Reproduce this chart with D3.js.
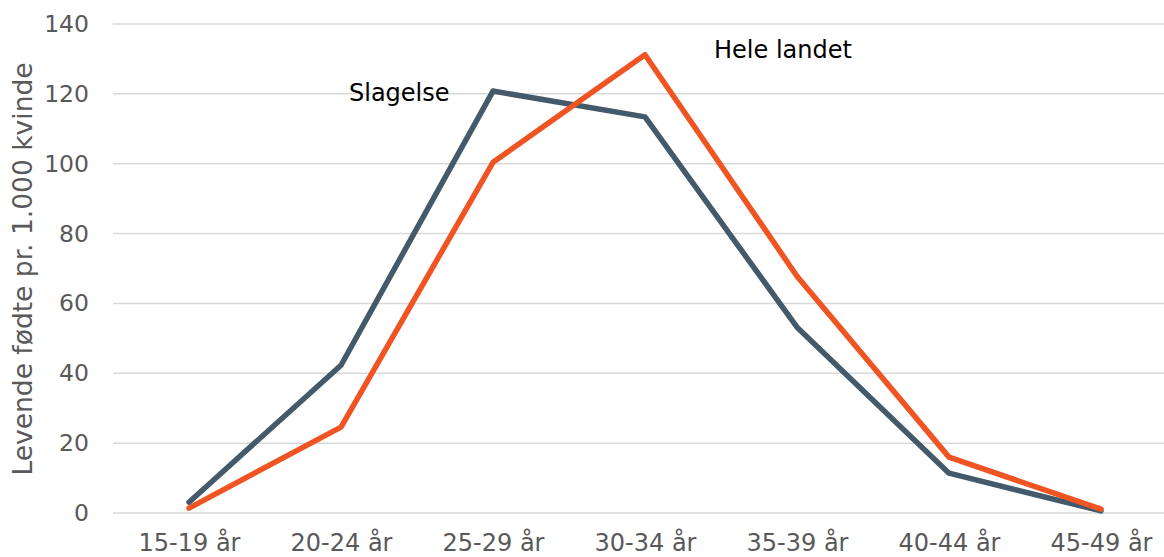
<!DOCTYPE html>
<html>
<head>
<meta charset="utf-8">
<script src="https://cdnjs.cloudflare.com/ajax/libs/d3/7.8.5/d3.min.js"></script>
<style>
  body { margin: 0; background: #fff; }
  svg { display: block; font-family: "DejaVu Sans", Verdana, sans-serif; }
</style>
</head>
<body>
<div id="chart"></div>
<script>
// categories and values
var categories = ["15-19 år", "20-24 år", "25-29 år", "30-34 år", "35-39 år", "40-44 år", "45-49 år"];
var slagelse = [3.1, 42.3, 120.8, 113.4, 53.2, 11.4, 0.6];
var heleLandet = [1.4, 24.6, 100.4, 131.2, 67.8, 16.0, 1.1];
var yTicks = [0, 20, 40, 60, 80, 100, 120, 140];

var series = [
    { name: "Slagelse", values: slagelse, color: "#44596a", label: { cat: 1, dx: 8, value: 118 } },
    { name: "Hele landet", values: heleLandet, color: "#f05423", label: { cat: 3, dx: 69, value: 130.3 } }
];

var width = 1164, height = 557;
var margin = { top: 24, right: 0, bottom: 44, left: 113 };

var svg = d3.select("#chart")
    .append("svg")
    .attr("width", width)
    .attr("height", height);

// x scale: one band per age group
var x = d3.scalePoint()
    .domain(categories)
    .range([margin.left, margin.left + 152 * 7])
    .padding(0.5);

var y = d3.scaleLinear()
    .domain([0, 140])
    .range([height - margin.bottom, margin.top]);

// gridlines
svg.append("g")
    .selectAll("line")
    .data(yTicks)
    .enter()
    .append("line")
    .attr("x1", margin.left)
    .attr("x2", width)
    .attr("y1", function (d) { return y(d); })
    .attr("y2", function (d) { return y(d); })
    .attr("stroke", "#d9d9d9")
    .attr("stroke-width", 1.5);

// y axis labels
var yAxis = svg.append("g")
    .attr("transform", "translate(" + (margin.left - 24) + ",0)")
    .call(d3.axisLeft(y).tickValues(yTicks).tickSize(0).tickPadding(0));
yAxis.select(".domain").remove();
yAxis.selectAll("text")
    .attr("font-size", 23.5)
    .attr("fill", "#595959")
    .attr("font-family", "DejaVu Sans, Verdana, sans-serif");

// x axis labels
var xAxis = svg.append("g")
    .attr("transform", "translate(0," + (height - margin.bottom) + ")")
    .call(d3.axisBottom(x).tickSize(0).tickPadding(21));
xAxis.select(".domain").remove();
xAxis.selectAll("text")
    .attr("font-size", 24)
    .attr("fill", "#595959")
    .attr("font-family", "DejaVu Sans, Verdana, sans-serif");

// axis title
svg.append("text")
    .attr("transform", "translate(32," + 269 + ") rotate(-90)")
    .attr("text-anchor", "middle")
    .attr("font-size", 26.5)
    .attr("fill", "#595959")
    .text("Levende fødte pr. 1.000 kvinde");

// lines
var line = d3.line()
    .x(function (d, i) { return x(categories[i]); })
    .y(function (d) { return y(d); });

series.forEach(function (s) {
    svg.append("path")
        .datum(s.values)
        .attr("fill", "none")
        .attr("stroke", s.color)
        .attr("stroke-width", 5.5)
        .attr("stroke-linejoin", "round")
        .attr("stroke-linecap", "round")
        .attr("d", line);

    svg.append("text")
        .attr("x", x(categories[s.label.cat]) + s.label.dx)
        .attr("y", y(s.label.value))
        .attr("font-size", 24)
        .attr("fill", "#000")
        .text(s.name);
});
</script>
</body>
</html>
